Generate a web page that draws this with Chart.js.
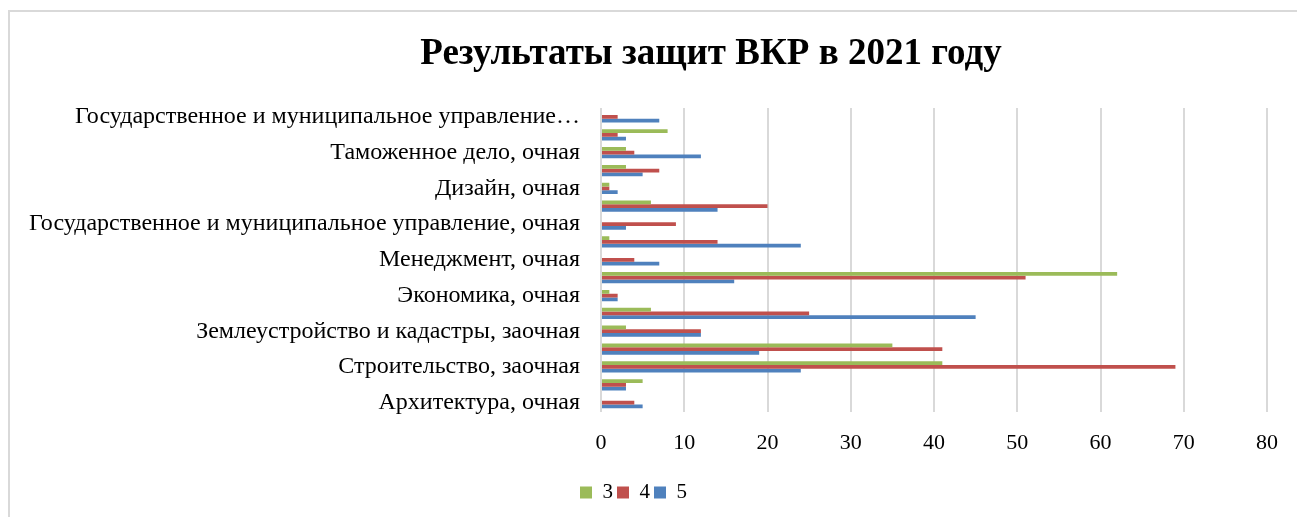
<!DOCTYPE html>
<html lang="ru">
<head>
    <meta charset="UTF-8">
    <title>Результаты защит ВКР в 2021 году</title>
    <script src="https://cdn.jsdelivr.net/npm/chart.js"></script>
    <style>
        body {
            margin: 0;
            background: #fff;
        }
        .frame {
            position: absolute;
            left: 8px;
            top: 10px;
            width: 1289px;
            height: 507px;
            border-left: 2px solid #d9d9d9;
            border-top: 2px solid #d9d9d9;
        }
        .wrap {
            position: absolute;
            left: 0;
            top: 0;
            width: 1297px;
            height: 517px;
        }
    </style>
</head>
<body>
    <div class="frame"></div>
    <div class="wrap">
        <canvas id="chart"></canvas>
    </div>

    <script>
        // categories, bottom to top as in the original (unlabelled rows left blank)
        const categories = [
            "Архитектура, очная",
            "",
            "Строительство, заочная",
            "",
            "Землеустройство и кадастры, заочная",
            "",
            "Экономика, очная",
            "",
            "Менеджмент, очная",
            "",
            "Государственное и муниципальное управление, очная",
            "",
            "Дизайн, очная",
            "",
            "Таможенное дело, очная",
            "",
            "Государственное и муниципальное управление…"
        ];

        const grade3 = [0, 5, 41, 35, 3, 6, 1, 62, 0, 1, 0, 6, 1, 3, 3, 8, 0];
        const grade4 = [4, 3, 69, 41, 12, 25, 2, 51, 4, 14, 9, 20, 1, 7, 4, 2, 2];
        const grade5 = [5, 3, 24, 19, 12, 45, 2, 16, 7, 24, 3, 14, 2, 5, 12, 3, 7];

        const xTicks = [0, 10, 20, 30, 40, 50, 60, 70, 80];

        const titleText = "Результаты защит ВКР в 2021 году";
        const serif = '"Liberation Serif", "Times New Roman", serif';

        // title drawn off-centre like the original
        const titlePlugin = {
            id: "offsetTitle",
            afterDraw(chart) {
                const ctx = chart.ctx;
                ctx.save();
                ctx.font = "bold 37px " + serif;
                ctx.fillStyle = "#000";
                ctx.textAlign = "center";
                ctx.textBaseline = "middle";
                ctx.fillText(titleText, 711, 54);
                ctx.restore();
            }
        };

        const ctx = document.getElementById("chart").getContext("2d");
        new Chart(ctx, {
            type: "bar",
            data: {
                labels: categories,
                datasets: [
                    { label: "3", data: grade3, backgroundColor: "#9BBB59" },
                    { label: "4", data: grade4, backgroundColor: "#C0504D" },
                    { label: "5", data: grade5, backgroundColor: "#4F81BD" }
                ]
            },
            options: {
                indexAxis: "y",
                responsive: true,
                maintainAspectRatio: false,
                animation: false,
                layout: {
                    padding: { top: 108, right: 30, bottom: 4, left: 0 }
                },
                datasets: {
                    bar: { categoryPercentage: 0.63, barPercentage: 1.0 }
                },
                plugins: {
                    title: { display: false },
                    tooltip: { enabled: false },
                    legend: {
                        position: "bottom",
                        labels: {
                            boxWidth: 12,
                            boxHeight: 12,
                            color: "#000",
                            font: { family: serif, size: 21 },
                            padding: 4
                        }
                    }
                },
                scales: {
                    x: {
                        min: 0,
                        max: 80,
                        afterBuildTicks(scale) {
                            scale.ticks = xTicks.map(v => ({ value: v }));
                        },
                        afterFit(scale) {
                            scale.height += 4;
                        },
                        grid: { color: "#d9d9d9", lineWidth: 2, drawTicks: false },
                        border: { display: false },
                        ticks: {
                            color: "#000",
                            padding: 18,
                            font: { family: serif, size: 22 }
                        }
                    },
                    y: {
                        reverse: true,
                        afterFit(scale) {
                            scale.width = 601;
                        },
                        grid: { display: false, drawTicks: false },
                        border: { display: false },
                        ticks: {
                            autoSkip: false,
                            color: "#000",
                            padding: 21,
                            font: { family: serif, size: 24 }
                        }
                    }
                }
            },
            plugins: [titlePlugin]
        });
    </script>
</body>
</html>
